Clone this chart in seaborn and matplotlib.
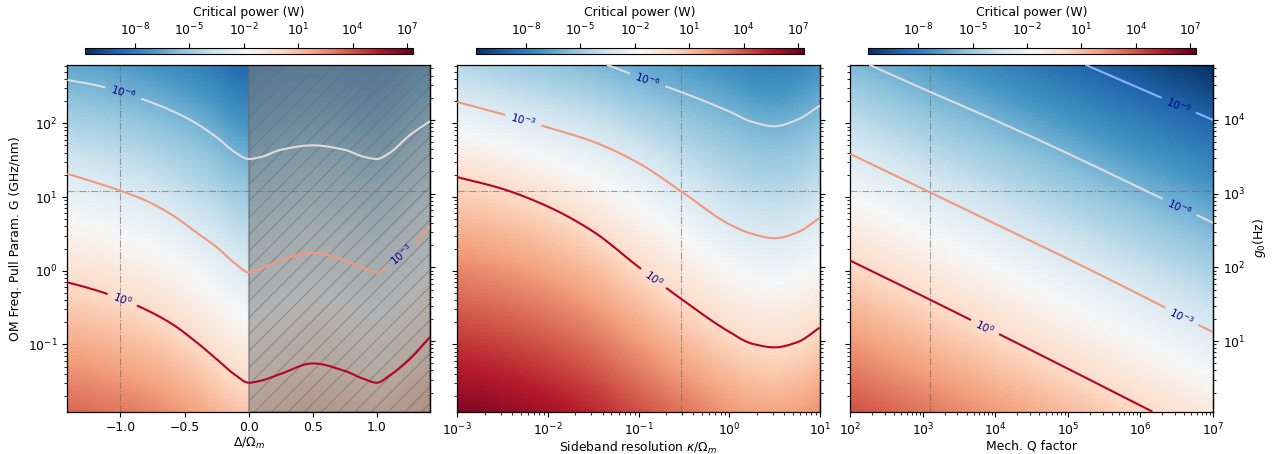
import numpy as np
import matplotlib
matplotlib.use("Agg")
import matplotlib.pyplot as plt
from matplotlib.colors import LogNorm
import seaborn as sns

# ---------------- data ----------------
# log10(P / W) of the drawn contour levels
levels = [-9, -6, -3, 0]
level_labels = {-9: r"$\mathit{10^{-9}}$", -6: r"$\mathit{10^{-6}}$",
                -3: r"$\mathit{10^{-3}}$", 0: r"$\mathit{10^{0}}$"}

# Panel 1: detuning Delta/Omega_m ; log10 G (GHz/nm) of each contour
det_x = [-1.414, -1.2, -1.0, -0.8, -0.6, -0.4, -0.25, -0.1, 0.0, 0.1, 0.25,
         0.5, 0.75, 0.9, 1.0, 1.1, 1.25, 1.414]
det_m6 = [2.588, 2.52, 2.43, 2.31, 2.17, 1.99, 1.81, 1.60, 1.516, 1.545, 1.64,
          1.701, 1.64, 1.545, 1.516, 1.60, 1.83, 2.03]
det_m3 = [1.315, 1.20, 1.086, 0.95, 0.76, 0.51, 0.32, 0.09, -0.023, 0.03, 0.14,
          0.244, 0.14, 0.03, -0.023, 0.09, 0.30, 0.60]
det_0 = [-0.157, -0.26, -0.38, -0.53, -0.72, -0.98, -1.20, -1.42, -1.52, -1.49,
         -1.40, -1.258, -1.36, -1.47, -1.52, -1.42, -1.21, -0.90]

# Panel 2: log10(kappa/Omega_m)
kap_x = [-3.0, -2.5, -2.0, -1.5, -1.0, -0.5, 0.0, 0.25, 0.5, 0.75, 1.0]
kap_m6 = [3.35, 3.20, 3.05, 2.86, 2.63, 2.41, 2.16, 2.02, 1.96, 2.05, 2.24]
kap_m3 = [2.289, 2.123, 1.943, 1.75, 1.46, 1.05, 0.63, 0.50, 0.44, 0.52, 0.72]
kap_0 = [1.27, 1.11, 0.87, 0.53, 0.05, -0.41, -0.83, -0.99, -1.04, -0.97, -0.77]

# Panel 3: log10(Q)
q_x = [2.0, 3.0, 4.0, 5.0, 6.0, 7.0]
q_m9 = [4.25, 3.80, 3.35, 2.90, 2.47, 2.045]
q_m6 = [2.91, 2.47, 2.04, 1.59, 1.12, 0.65]
q_m3 = [1.584, 1.110, 0.635, 0.160, -0.33, -0.835]
q_0 = [0.136, -0.345, -0.835, -1.33, -1.83, -2.33]

# reference design point
ref_G = 12.0
ref_det = -1.0
ref_kappa = 0.29
ref_Q = 1236.0
g0_per_G = 90.0          # g0 (Hz) per G (GHz/nm)

G_lim = (0.01222, 623.7)
cb_lim = (10 ** -10.75, 10 ** 7.3)
cb_ticks = [1e-8, 1e-5, 1e-2, 1e1, 1e4, 1e7]
g0_ticks = [1e1, 1e2, 1e3, 1e4]

# ---------------- helpers ----------------
def pchip(x, y, xf):
    x = np.asarray(x, float)
    y = np.asarray(y, float)
    h = np.diff(x)
    d = np.diff(y) / h
    m = np.zeros_like(y)
    for k in range(1, len(x) - 1):
        if d[k - 1] * d[k] > 0:
            w1 = 2 * h[k] + h[k - 1]
            w2 = h[k] + 2 * h[k - 1]
            m[k] = (w1 + w2) / (w1 / d[k - 1] + w2 / d[k])
    m[0] = d[0]
    m[-1] = d[-1]
    idx = np.clip(np.searchsorted(x, xf) - 1, 0, len(x) - 2)
    t = (xf - x[idx]) / h[idx]
    h00 = 2 * t**3 - 3 * t**2 + 1
    h10 = t**3 - 2 * t**2 + t
    h01 = -2 * t**3 + 3 * t**2
    h11 = t**3 - t**2
    return (h00 * y[idx] + h10 * h[idx] * m[idx] + h01 * y[idx + 1]
            + h11 * h[idx] * m[idx + 1])


def build_field(xs, curves, xf, lg, slope_lo, slope_hi):
    lv = sorted(curves.keys(), reverse=True)       # 0, -3, -6 ... (ascending G)
    cg = np.array([pchip(xs, curves[L], xf) for L in lv])
    p = np.array(lv, float)
    Z = np.empty((len(lg), len(xf)))
    for j in range(len(xf)):
        g = cg[:, j]
        z = np.interp(lg, g, p)
        lo = lg < g[0]
        z[lo] = p[0] + slope_lo * (g[0] - lg[lo])
        hi = lg > g[-1]
        z[hi] = p[-1] - slope_hi * (lg[hi] - g[-1])
        Z[:, j] = z
    return Z


# ---------------- style ----------------
sns.set_theme(style="ticks", rc={
    "axes.edgecolor": "black", "text.color": "black",
    "axes.labelcolor": "black", "xtick.color": "black", "ytick.color": "black",
})
plt.rcParams["font.family"] = ["DejaVu Sans"]
fs = 8.9
plt.rcParams.update({"font.size": fs, "axes.labelsize": fs,
                     "xtick.labelsize": fs, "ytick.labelsize": fs,
                     "xtick.major.size": 3.5, "ytick.major.size": 3.5,
                     "xtick.minor.size": 2, "ytick.minor.size": 2,
                     "xtick.major.width": 0.8, "ytick.major.width": 0.8,
                     "xtick.minor.width": 0.6, "ytick.minor.width": 0.6,
                     "axes.linewidth": 0.9, "hatch.linewidth": 0.8})

cmap = sns.color_palette("RdBu_r", as_cmap=True)
ccmap = sns.color_palette("coolwarm", as_cmap=True)
level_colors = {L: ccmap((L + 12) / 12.0) for L in levels}
norm = LogNorm(*cb_lim)

fig = plt.figure(figsize=(12.76, 4.54), dpi=100)
W, H = 1276.0, 454.0
ax_left = [67.3, 457.3, 850.3]
cb_left = [85.0, 476.0, 868.3]
axw, axb, axh = 362.7, 454 - 411.7, 347.0
axes = [fig.add_axes([l / W, axb / H, axw / W, axh / H]) for l in ax_left]
caxes = [fig.add_axes([l / W, (454 - 54.3) / H, 327.5 / W, 6.6 / H]) for l in cb_left]

lg_fine = np.linspace(np.log10(G_lim[0]), np.log10(G_lim[1]), 400)
lg_coarse = np.linspace(np.log10(G_lim[0]), np.log10(G_lim[1]), 90)

panels = [
    dict(xs=det_x, curves={-6: det_m6, -3: det_m3, 0: det_0}, log=False,
         xlim=(-1.414, 1.414), slo=2.0, shi=2.3, vline=ref_det,
         xlabel=r"$\Delta/\Omega_m$",
         labels=[(-0.97, 10 ** 2.45), (1.19, 10 ** 0.22), (-0.98, 10 ** -0.37)]),
    dict(xs=kap_x, curves={-6: kap_m6, -3: kap_m3, 0: kap_0}, log=True,
         xlim=(1e-3, 1e1), slo=2.1, shi=2.3, vline=ref_kappa,
         xlabel=r"Sideband resolution $\kappa/\Omega_m$",
         labels=[(10 ** -0.89, 10 ** 2.63), (10 ** -2.27, 10 ** 2.05),
                 (10 ** -0.82, 10 ** -0.08)]),
    dict(xs=q_x, curves={-9: q_m9, -6: q_m6, -3: q_m3, 0: q_0}, log=True,
         xlim=(1e2, 1e7), slo=2.0, shi=2.3, vline=ref_Q,
         xlabel="Mech. Q factor",
         labels=[(10 ** 6.54, 10 ** 2.27), (10 ** 6.54, 10 ** 0.87),
                 (10 ** 6.58, 10 ** -0.60), (10 ** 3.87, 10 ** -0.74)]),
]

for i, (ax, cax, pn) in enumerate(zip(axes, caxes, panels)):
    x0, x1 = pn["xlim"]
    # set up scales first so that contour labels are placed in final coordinates
    ax.set_yscale("log")
    if pn["log"]:
        ax.set_xscale("log")
    ax.set_xlim(x0, x1)
    ax.set_ylim(*G_lim)

    if pn["log"]:
        xf = np.linspace(np.log10(x0), np.log10(x1), 400)
        xc = np.linspace(np.log10(x0), np.log10(x1), 90)
        Xf, Xc = 10 ** xf, 10 ** xc
    else:
        xf = np.linspace(x0, x1, 400)
        xc = np.linspace(x0, x1, 90)
        Xf, Xc = xf, xc
    Zc = build_field(pn["xs"], pn["curves"], xc, lg_coarse, pn["slo"], pn["shi"])
    Zf = build_field(pn["xs"], pn["curves"], xf, lg_fine, pn["slo"], pn["shi"])

    mesh = ax.pcolormesh(Xc, 10 ** lg_coarse, 10 ** Zc, cmap=cmap, norm=norm,
                         shading="nearest", rasterized=True, zorder=0)

    ax.axhline(ref_G, color="0.4", lw=0.8, ls="-.", alpha=0.6, zorder=1.5)
    ax.axvline(pn["vline"], color="0.4", lw=0.8, ls="-.", alpha=0.6, zorder=1.5)

    if i == 0:
        ax.axvspan(0, x1, facecolor=(0.5, 0.5, 0.5, 0.57),
                   edgecolor=(0.42, 0.42, 0.42, 0.55), hatch="//", lw=1.5,
                   zorder=1)
        ax.set_xticks([-1.0, -0.5, 0.0, 0.5, 1.0])
        ax.set_ylabel("OM Freq. Pull Param. G (GHz/nm)")
    else:
        ax.tick_params(axis="y", which="both", labelleft=False)

    lv = sorted(pn["curves"].keys())
    cs = ax.contour(Xf, 10 ** lg_fine, Zf, levels=lv,
                    colors=[level_colors[L] for L in lv], linewidths=1.5,
                    zorder=3)
    ax.clabel(cs, fmt=level_labels, fontsize=7.5, colors="darkblue",
              manual=pn["labels"], inline=True, inline_spacing=6)

    ax.set_xlim(x0, x1)
    ax.set_ylim(*G_lim)
    ax.set_xlabel(pn["xlabel"], labelpad=1)

    sec = ax.secondary_yaxis("right", functions=(lambda G: G * g0_per_G,
                                                 lambda g: g / g0_per_G))
    sec.set_yticks(g0_ticks)
    if i == 2:
        sec.set_ylabel(r"$g_0$(Hz)")
    else:
        sec.tick_params(axis="y", which="both", labelright=False)

    cb = fig.colorbar(mesh, cax=cax, orientation="horizontal")
    cb.set_ticks(cb_ticks)
    cb.ax.minorticks_off()
    cax.xaxis.set_ticks_position("top")
    cax.xaxis.set_label_position("top")
    cb.set_label("Critical power (W)", labelpad=4)
    cb.outline.set_linewidth(0.8)

fig.savefig("out.png", dpi=100)
